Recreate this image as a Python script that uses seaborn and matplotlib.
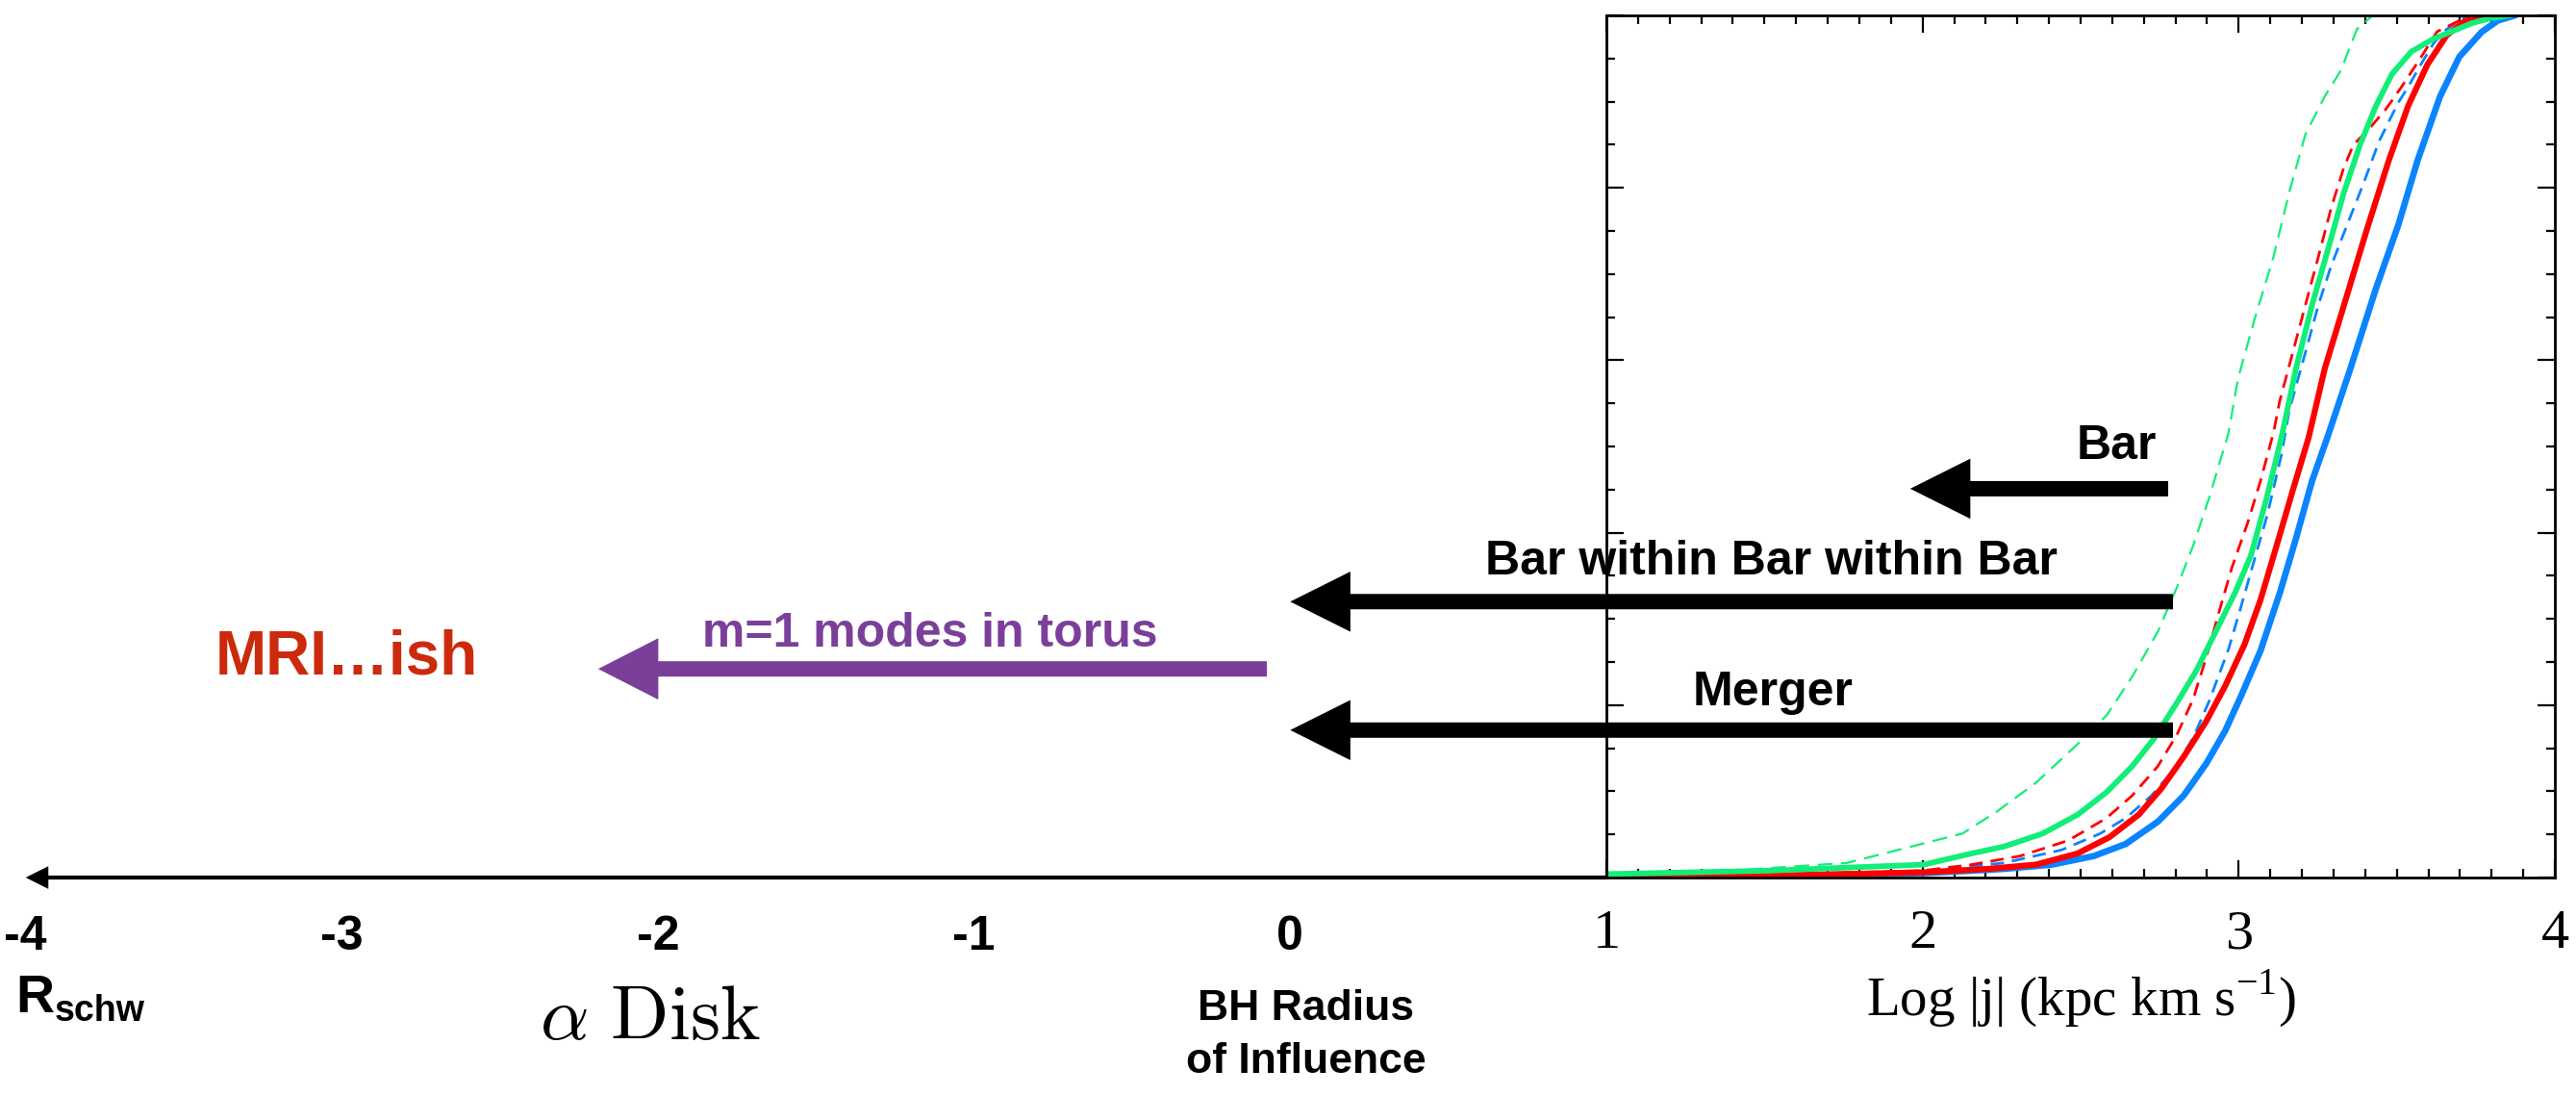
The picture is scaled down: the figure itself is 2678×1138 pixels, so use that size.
import numpy as np
import pandas as pd
import matplotlib
matplotlib.use("Agg")
import matplotlib.pyplot as plt
import seaborn as sns
from matplotlib.ticker import MultipleLocator

# ---------------- data ----------------
blue_solid_x = [1.0, 1.5, 2.0, 2.156, 2.258, 2.41, 2.542, 2.643, 2.745, 2.826, 2.897, 2.957, 3.008,
                3.069, 3.13, 3.181, 3.232, 3.282, 3.353, 3.434, 3.505, 3.566, 3.637, 3.698, 3.769,
                3.82, 3.875]
blue_solid_y = [0.0, 0.002, 0.005, 0.008, 0.010, 0.015, 0.025, 0.039, 0.065, 0.095, 0.132, 0.170, 0.211,
                0.263, 0.330, 0.393, 0.460, 0.512, 0.590, 0.683, 0.757, 0.832, 0.906, 0.952, 0.981,
                0.994, 1.0]

red_solid_x = [1.0, 1.5, 2.0, 2.207, 2.359, 2.491, 2.592, 2.684, 2.755, 2.826, 2.897, 2.957, 3.018,
               3.069, 3.12, 3.171, 3.221, 3.272, 3.343, 3.404, 3.475, 3.536, 3.597, 3.658, 3.718, 3.80]
red_solid_y = [0.0, 0.002, 0.006, 0.010, 0.015, 0.028, 0.047, 0.073, 0.103, 0.140, 0.181, 0.222, 0.270,
               0.322, 0.385, 0.449, 0.510, 0.590, 0.676, 0.750, 0.832, 0.895, 0.943, 0.977, 0.994, 1.0]

green_solid_x = [1.0, 1.517, 2.004, 2.156, 2.258, 2.38, 2.491, 2.582, 2.663, 2.734, 2.805, 2.866, 2.927,
                 2.988, 3.039, 3.089, 3.135, 3.181, 3.232, 3.282, 3.333, 3.384, 3.434, 3.485, 3.546,
                 3.617, 3.678, 3.738, 3.80, 3.86]
green_solid_y = [0.004, 0.008, 0.015, 0.028, 0.036, 0.051, 0.073, 0.099, 0.129, 0.162, 0.203, 0.240, 0.285,
                 0.330, 0.374, 0.441, 0.510, 0.590, 0.664, 0.728, 0.795, 0.850, 0.895, 0.932, 0.958,
                 0.973, 0.982, 0.991, 0.997, 1.0]

green_dash_x = [1.0, 1.314, 1.761, 2.126, 2.237, 2.359, 2.491, 2.582, 2.663, 2.744, 2.805, 2.856, 2.907,
                2.968, 2.998, 3.049, 3.110, 3.160, 3.211, 3.272, 3.323, 3.374, 3.424]
green_dash_y = [0.003, 0.006, 0.017, 0.051, 0.077, 0.110, 0.155, 0.188, 0.233, 0.285, 0.337, 0.385, 0.441,
                0.516, 0.579, 0.646, 0.720, 0.795, 0.862, 0.906, 0.936, 0.984, 1.0]

red_dash_x = [1.0, 1.5, 2.0, 2.156, 2.309, 2.461, 2.582, 2.663, 2.744, 2.805, 2.856, 2.897, 2.937, 2.978,
              3.028, 3.069, 3.110, 3.130, 3.171, 3.211, 3.252, 3.292, 3.333, 3.363, 3.414, 3.465, 3.515,
              3.576, 3.627, 3.698, 3.76]
red_dash_y = [0.0, 0.003, 0.008, 0.015, 0.025, 0.043, 0.069, 0.095, 0.129, 0.166, 0.207, 0.255, 0.307, 0.359,
              0.411, 0.460, 0.516, 0.553, 0.609, 0.664, 0.720, 0.776, 0.824, 0.850, 0.869, 0.891, 0.917,
              0.951, 0.981, 0.994, 1.0]

blue_dash_x = [1.0, 1.5, 2.0, 2.258, 2.440, 2.562, 2.643, 2.724, 2.795, 2.856, 2.907, 2.968, 3.008, 3.039,
               3.090, 3.135, 3.160, 3.211, 3.252, 3.292, 3.343, 3.384, 3.414, 3.444, 3.475, 3.505, 3.536,
               3.576, 3.617, 3.658, 3.72]
blue_dash_y = [0.0, 0.003, 0.007, 0.017, 0.032, 0.051, 0.069, 0.095, 0.125, 0.162, 0.205, 0.265, 0.315, 0.355,
               0.420, 0.490, 0.542, 0.609, 0.664, 0.709, 0.757, 0.795, 0.824, 0.854, 0.877, 0.899, 0.917,
               0.943, 0.968, 0.984, 1.0]

box_ticks = [1, 2, 3, 4]
box_tick_labels = ["1", "2", "3", "4"]
scale_ticks = [-4, -3, -2, -1, 0]
scale_tick_labels = ["-4", "-3", "-2", "-1", "0"]

# arrows: label, tail x, tip x, y
arrow_labels = ["Bar", "Bar within Bar within Bar", "Merger"]
arrow_tail_x = [2.777, 2.792, 2.792]
arrow_tip_x = [1.961, 0.0, 0.0]
arrow_y = [0.451, 0.320, 0.171]
arrow_label_x = [2.613, 1.523, 1.526]
arrow_label_y = [0.4855, 0.3516, 0.200]

torus_label = "m=1 modes in torus"
torus_tail_x, torus_tip_x, torus_y = -0.074, -2.189, 0.242

# ---------------- style ----------------
sns.set_theme(style="white")
plt.rcParams["font.family"] = ["Liberation Sans", "DejaVu Sans"]

W, H = 2678, 1138
fig = plt.figure(figsize=(W / 100, H / 100), dpi=100)
fig.patch.set_facecolor("white")

box_l, box_r, box_t, box_b = 1670, 2656, 16, 912
ax = fig.add_axes([box_l / W, 1 - box_b / H, (box_r - box_l) / W, (box_b - box_t) / H])
upx = (box_r - box_l) / 3.0
ax_bg = fig.add_axes([0, 1 - box_b / H, 1, (box_b - box_t) / H], zorder=3)
ax_bg.set_xlim(1 - box_l / upx, 4 + (W - box_r) / upx)
ax_bg.set_ylim(0, 1)
ax_bg.patch.set_visible(False)
for s in ax_bg.spines.values():
    s.set_visible(False)

# ---------------- curves ----------------
BLUE, RED, GREEN = "#0A84FF", "#FF0000", "#12EE78"
series = [
    (blue_solid_x, blue_solid_y, BLUE, 4.8, None),
    (blue_dash_x, blue_dash_y, BLUE, 2.0, (5, 3)),
    (red_solid_x, red_solid_y, RED, 4.5, None),
    (red_dash_x, red_dash_y, RED, 2.0, (5, 3)),
    (green_solid_x, green_solid_y, GREEN, 4.2, None),
    (green_dash_x, green_dash_y, GREEN, 1.6, (7, 4)),
]
for xs, ys, col, lw, dash in series:
    df = pd.DataFrame({"x": xs, "y": ys})
    sns.lineplot(data=df, x="x", y="y", ax=ax, color=col, lw=lw, sort=False, estimator=None)
    if dash is not None:
        ax.get_lines()[-1].set_dashes(dash)

ax.set_xlim(1, 4)
ax.set_ylim(0, 1)
ax.set_ylabel("")
ax.xaxis.set_major_locator(MultipleLocator(1))
ax.xaxis.set_minor_locator(MultipleLocator(0.1))
ax.yaxis.set_major_locator(MultipleLocator(0.2))
ax.yaxis.set_minor_locator(MultipleLocator(0.05))
ax.set_xticks(box_ticks, labels=box_tick_labels, fontfamily="Liberation Serif", fontsize=42)
ax.tick_params(which="both", direction="in", top=True, right=True, left=True, bottom=True,
               labelleft=False, color="black", width=1.6)
ax.tick_params(which="major", length=13)
ax.tick_params(which="minor", length=6.5)
ax.tick_params(axis="x", which="major", pad=24, labelcolor="black")
for s in ax.spines.values():
    s.set_color("black")
    s.set_linewidth(2)
ax.set_xlabel("Log |j| (kpc km s$^{\\mathregular{-1}}$)", fontfamily="Liberation Serif",
              fontsize=41, color="black", labelpad=6)

# ---------------- left scale ----------------
ax_bg.set_xticks(scale_ticks, labels=scale_tick_labels, fontsize=36, fontweight="bold")
ax_bg.set_yticks([])
ax_bg.tick_params(axis="x", length=0, pad=28, labelcolor="black")

ax_bg.annotate("", xy=(-4.0, 0.0), xytext=(1.0, 0.0), annotation_clip=False,
               arrowprops=dict(arrowstyle="simple,head_length=17,head_width=17,tail_width=3",
                               mutation_scale=1, color="black", lw=0, shrinkA=0, shrinkB=0))

for lab, xt, xp, yy, lx, ly in zip(arrow_labels, arrow_tail_x, arrow_tip_x, arrow_y,
                                   arrow_label_x, arrow_label_y):
    ax_bg.annotate("", xy=(xp, yy), xytext=(xt, yy), annotation_clip=False,
                   arrowprops=dict(arrowstyle="simple,head_length=45,head_width=45,tail_width=11.5",
                                   mutation_scale=1, color="black", lw=0, shrinkA=0, shrinkB=0))
    ax_bg.text(lx, ly, lab, ha="center", va="baseline", fontsize=36, fontweight="bold", color="black")

PURPLE = "#7B3F9A"
ax_bg.annotate("", xy=(torus_tip_x, torus_y), xytext=(torus_tail_x, torus_y), annotation_clip=False,
               arrowprops=dict(arrowstyle="simple,head_length=45,head_width=46,tail_width=11.5",
                               mutation_scale=1, color=PURPLE, lw=0, shrinkA=0, shrinkB=0))
ax_bg.text(-1.139, 0.268, torus_label, ha="center", va="baseline", fontsize=36,
           fontweight="bold", color=PURPLE)
ax_bg.text(-2.986, 0.2366, "MRI\u2026ish", ha="center", va="baseline", fontsize=46,
           fontweight="bold", color="#CB2A0C")

r_txt = ax_bg.text(-4.032, -0.156, "R", ha="left", va="baseline", fontsize=40,
                   fontweight="bold", color="black")
ax_bg.annotate("schw", xy=(1.0, 0.0), xycoords=r_txt, xytext=(0.5, -4), textcoords="offset points",
               ha="left", va="bottom", fontsize=27, fontweight="bold", color="black")
ax_bg.text(-2.024, -0.1875, r"$\alpha\ \mathrm{Disk}$", ha="center", va="baseline", fontsize=57,
           math_fontfamily="cm", color="black")
ax_bg.text(0.05, -0.183, "BH Radius\nof Influence", ha="center", va="center", multialignment="center",
           fontsize=32, fontweight="bold", color="black", linespacing=1.45)

fig.savefig("out.png", dpi=100, facecolor="white")
